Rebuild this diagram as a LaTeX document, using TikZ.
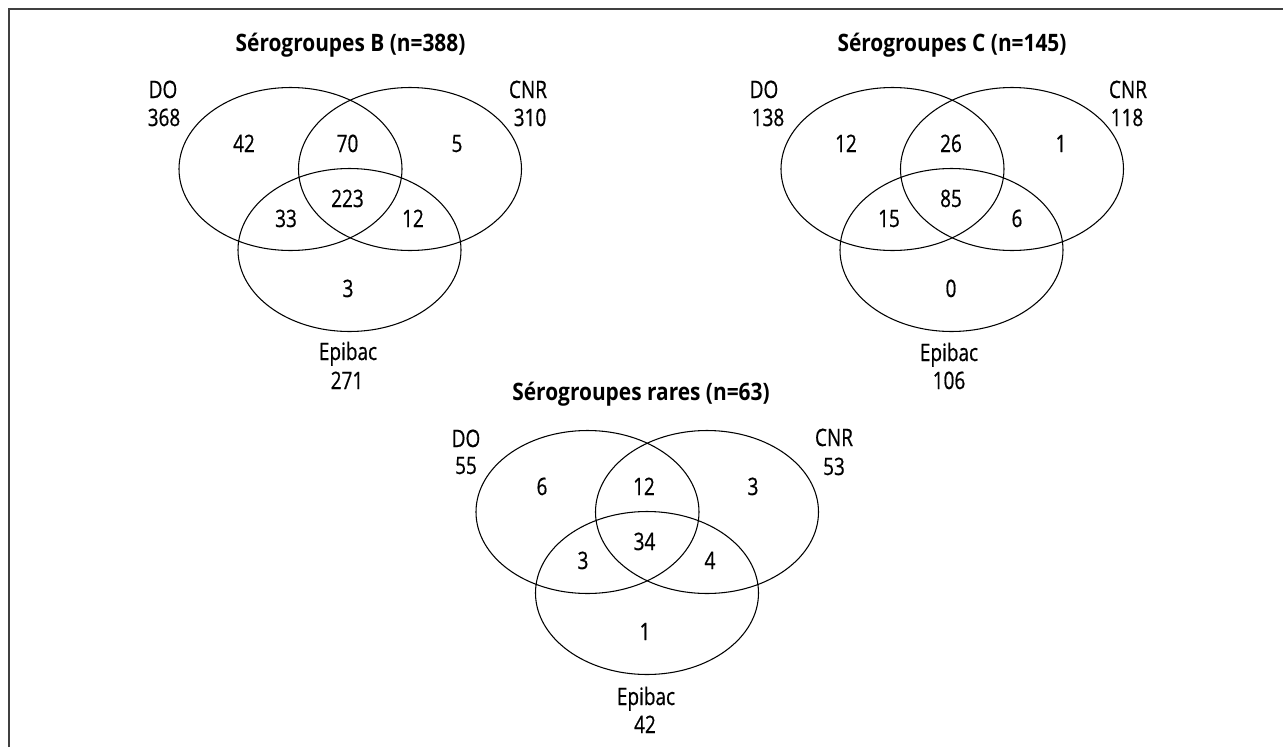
\documentclass[tikz,border=0pt]{standalone}
\usepackage{fontspec}
\setmainfont[FakeStretch=0.79,FakeBold=0.6]{Open Sans}
\newfontfamily\ttlfont[FakeStretch=0.87]{Open Sans}
\usetikzlibrary{shapes.geometric}
\tikzset{
  venn/.style={ellipse, draw=black, line width=0.8pt, inner sep=0pt,
    minimum width=167.25pt, minimum height=122.25pt},
  lbl/.style={anchor=base, inner sep=0pt, font=\fontsize{18}{21}\selectfont},
  ttl/.style={anchor=base, inner sep=0pt, font=\ttlfont\fontsize{18}{21}\selectfont\bfseries},
  frameline/.style={line width=1.2pt, draw={black!75}}
}
\begin{document}
\begin{tikzpicture}[x=0.75pt, y=-0.75pt]
\useasboundingbox (0,0) rectangle (1283,747);
% frame
\coordinate (fbl) at (9,747);
\coordinate (ftl) at (9,9);
\coordinate (ftr) at (1283,9);
\draw[frameline] (fbl) -- (ftl) -- (ftr);

% ---------- Serogroupes B ----------
\node[venn] (bdo)  at (290.5,169) {};
\node[venn] (bcnr) at (410,169) {};
\node[venn] (bepi) at (349.5,250) {};
\node[ttl] (btitle) at (350.5,51) {Sérogroupes B (n=388)};
\node[lbl] (bdol)  at (163,98)  {DO};
\node[lbl] (bdon)  at (164,126) {368};
\node[lbl] (bcnrl) at (528,98)  {CNR};
\node[lbl] (bcnrn) at (530,126) {310};
\node[lbl] (b42)  at (244,152) {42};
\node[lbl] (b70)  at (347.5,152) {70};
\node[lbl] (b5)   at (457,152) {5};
\node[lbl] (b223) at (347.5,207) {223};
\node[lbl] (b33)  at (286,227) {33};
\node[lbl] (b12)  at (413,227) {12};
\node[lbl] (b3)   at (348,297) {3};
\node[lbl] (bepil) at (348,360) {Epibac};
\node[lbl] (bepin) at (347,389) {271};

% ---------- Serogroupes C ----------
\node[venn] (cdo)  at (892.5,169) {};
\node[venn] (ccnr) at (1012,169) {};
\node[venn] (cepi) at (951.5,250) {};
\node[ttl] (ctitle) at (952,51) {Sérogroupes C (n=145)};
\node[lbl] (cdol)  at (764,98)  {DO};
\node[lbl] (cdon)  at (768,126) {138};
\node[lbl] (ccnrl) at (1128,98)  {CNR};
\node[lbl] (ccnrn) at (1127,126) {118};
\node[lbl] (c12) at (846,152) {12};
\node[lbl] (c26) at (951,152) {26};
\node[lbl] (c1)  at (1061,152) {1};
\node[lbl] (c85) at (951,207) {85};
\node[lbl] (c15) at (889,227) {15};
\node[lbl] (c6)  at (1017,227) {6};
\node[lbl] (c0)  at (951,297) {0};
\node[lbl] (cepil) at (949,361) {Epibac};
\node[lbl] (cepin) at (949,389) {106};

% ---------- Serogroupes rares ----------
\node[venn] (rdo)  at (587.5,512) {};
\node[venn] (rcnr) at (707,512) {};
\node[venn] (repi) at (647,593) {};
\node[ttl] (rtitle) at (641,400) {Sérogroupes rares (n=63)};
\node[lbl] (rdol)  at (466,447) {DO};
\node[lbl] (rdon)  at (466,474) {55};
\node[lbl] (rcnrl) at (834,446) {CNR};
\node[lbl] (rcnrn) at (834,475) {53};
\node[lbl] (r6)  at (542,495) {6};
\node[lbl] (r12) at (644,495) {12};
\node[lbl] (r3a) at (753,495) {3};
\node[lbl] (r34) at (644.5,550) {34};
\node[lbl] (r3b) at (583,569) {3};
\node[lbl] (r4)  at (710,569) {4};
\node[lbl] (r1)  at (645,640) {1};
\node[lbl] (repil) at (646,705) {Epibac};
\node[lbl] (repin) at (645,733) {42};
\end{tikzpicture}
\end{document}
